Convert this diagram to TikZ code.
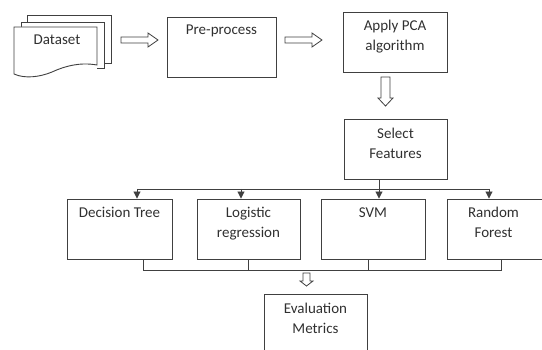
\documentclass[tikz,border=0pt]{standalone}
\usepackage{fontspec}
\setmainfont{Carlito}
\usetikzlibrary{arrows.meta}
\definecolor{ln}{HTML}{404040}
\definecolor{tx}{HTML}{303030}
\begin{document}
\begin{tikzpicture}[x=1pt,y=-1pt,
  box/.style={draw=ln, line width=0.9pt, rectangle, inner sep=0pt},
  lbl/.style={anchor=base, align=center, inner sep=0pt, text=tx, font=\fontsize{15}{20}\selectfont},
  ln/.style={draw=ln, line width=0.9pt},
  arr/.style={ln, -{Triangle[width=7pt,length=7pt]}},
  hollow/.style={draw=ln, line width=0.8pt, fill=white, line join=miter}]
\useasboundingbox (0,0) rectangle (542,350);

% Dataset (multi-document)
\draw[ln] (27,22) -- (27,15) -- (111,15) -- (111,63) -- (104,63);
\draw[ln] (21,27) -- (21,22) -- (104,22) -- (104,68) -- (97,68);
\draw[ln, fill=white] (14,27) -- (97,27) -- (97,65)
   .. controls (80,62) and (65,66) .. (52,72)
   .. controls (40,77) and (25,79) .. (14,74) -- cycle;
\node[lbl] (ds) at (57,45) {Dataset};

% Pre-process
\node[box, minimum width=109pt, minimum height=60pt] (pp) at (221.5,47) {};
\node[lbl] (ppt) at (221.5,35) {Pre-process};

% Apply PCA
\node[box, minimum width=104pt, minimum height=60pt] (pca) at (395,42) {};
\node[lbl] (pcat) at (395,51) {Apply PCA\\algorithm};

% Select Features
\node[box, minimum width=103pt, minimum height=60pt] (sf) at (395.5,149) {};
\node[lbl] (sft) at (395.5,159) {Select\\Features};

% Classifiers
\node[box, minimum width=105pt, minimum height=60pt] (dt) at (119.5,229) {};
\node[lbl] (dtt) at (119.5,218) {Decision Tree};
\node[box, minimum width=103pt, minimum height=60pt] (lr) at (248.5,229) {};
\node[lbl] (lrt) at (248.5,238) {Logistic\\regression};
\node[box, minimum width=104pt, minimum height=60pt] (svm) at (373,229) {};
\node[lbl] (svmt) at (373,218) {SVM};
\node[box, minimum width=103pt, minimum height=60pt] (rf) at (498.5,229) {};
\node[lbl] (rft) at (493.5,238) {Random\\Forest};

% Evaluation Metrics
\node[box, minimum width=103pt, minimum height=60pt] (ev) at (315.5,324) {};
\node[lbl] (evt) at (315.5,334) {Evaluation\\Metrics};

% hollow block arrows
\draw[hollow] (121,37) -- (148,37) -- (148,33) -- (158,40) -- (148,47) -- (148,43) -- (121,43) -- cycle;
\draw[hollow] (285,37) -- (312,37) -- (312,33) -- (322,40) -- (312,47) -- (312,43) -- (285,43) -- cycle;
\draw[hollow] (381,77) -- (390,77) -- (390,98) -- (393,98) -- (385.5,106) -- (378,98) -- (381,98) -- cycle;
\draw[hollow] (303,273) -- (310,273) -- (310,281) -- (313,281) -- (306.5,286) -- (300,281) -- (303,281) -- cycle;

% distribution bus
\coordinate (b1) at (137,189);
\coordinate (b2) at (241,189);
\coordinate (b3) at (379,189);
\coordinate (b4) at (489,189);
\draw[ln] (b3 |- sf.south) -- (b3);
\draw[ln] (b1) -- (b4);
\draw[arr] (b1) -- (b1 |- dt.north);
\draw[arr] (b2) -- (b2 |- lr.north);
\draw[arr] (b3) -- (b3 |- svm.north);
\draw[arr] (b4) -- (b4 |- rf.north);

% collecting bus
\coordinate (c1) at (143,270);
\coordinate (c2) at (248,270);
\coordinate (c3) at (368,270);
\coordinate (c4) at (501,270);
\draw[ln] (c1 |- dt.south) -- (c1) -- (c4) -- (c4 |- rf.south);
\draw[ln] (c2 |- lr.south) -- (c2);
\draw[ln] (c3 |- svm.south) -- (c3);
\end{tikzpicture}
\end{document}
